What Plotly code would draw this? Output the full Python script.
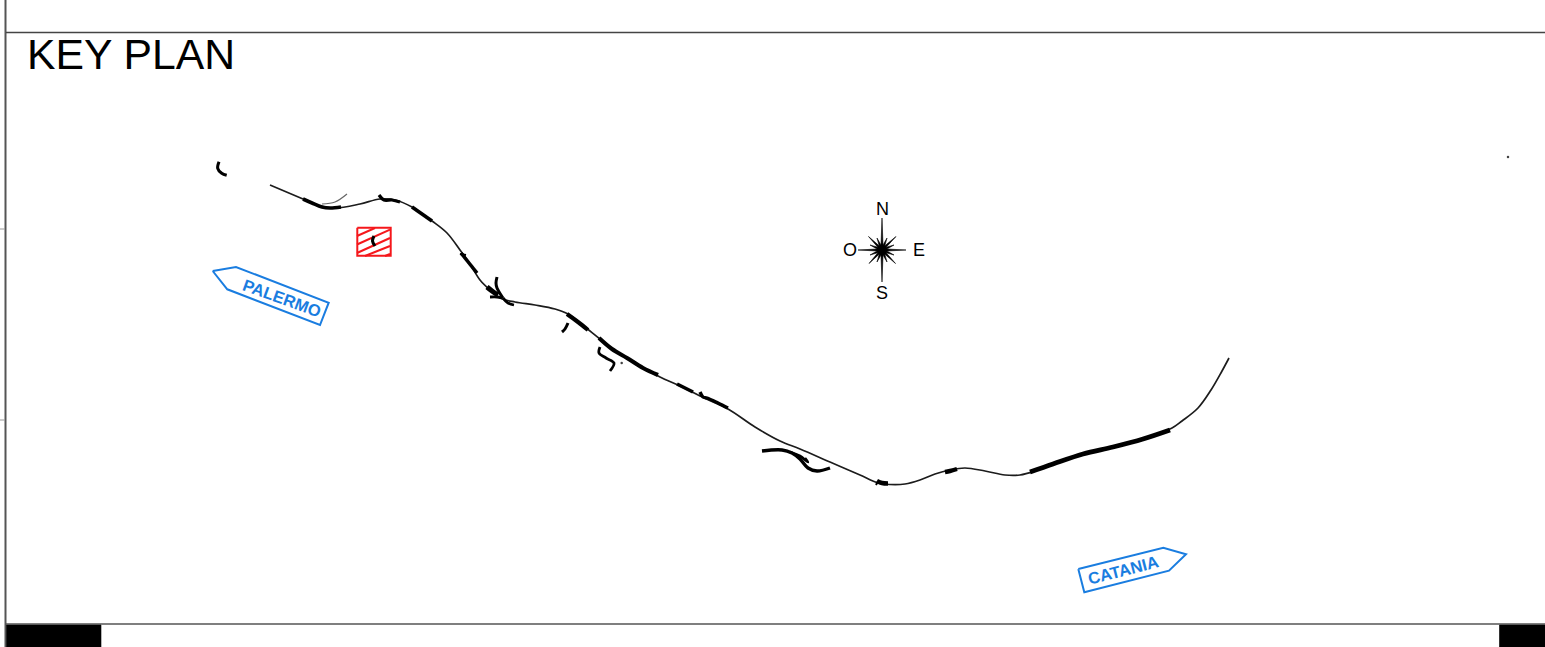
import plotly.graph_objects as go

TITLE = "KEY PLAN"
CITY_LABELS = ["PALERMO", "CATANIA"]
CITY_LABEL_X = [282, 1123]
CITY_LABEL_Y = [298.5, 570]
CITY_LABEL_ANGLE = [20, -14.5]
COMPASS_LETTERS = ["N", "S", "O", "E"]
COMPASS_LETTER_X = [882, 882, 850, 919]
COMPASS_LETTER_Y = [209, 292.5, 250, 250]

track_x = [270,303,320,335,360,380,395,412,432,447,460,470,480,490,500,515,535,555,568,585,600,620,640,660,680,700,728,755,780,800,830,860,878,890,905,920,935,950,965,985,1005,1020,1035,1060,1085,1110,1135,1150,1172,1182,1198,1211,1222,1229]
track_y = [185,199,206,208,204,199,200,207,221,233,250,264,280,290,298,302,305,309,314,327,339,354,366,377,386,396,409,427,441,449,462,475,483,484.5,484,480,474,470,468,471,475,475,471,461,453,447,441,436,428,421,408,390,371,358]

branch_grey_x = [322,335,347]
branch_grey_y = [204,202,194]

seg_a_x, seg_a_y = [303,312,322,330,341], [199,203,207,208,207]
seg_b_x, seg_b_y = [379,384,392,400], [195,200,200,202]
seg_c_x, seg_c_y = [412,422,432], [207,214,221]
seg_d_x, seg_d_y = [461,469,477], [253,263,273]
seg_e_x, seg_e_y = [487,492,498], [287,291,295]
seg_f_x, seg_f_y = [497,496,497,503], [277,283,288,298]
seg_g_x, seg_g_y = [490,497,502], [297,297,298]
seg_h_x, seg_h_y = [503,508,514], [298,303,305]
seg_i_x, seg_i_y = [567,578,588], [314,322,330]
seg_j_x, seg_j_y = [599,612,627,643,658], [338,349,358,368,375]
seg_k_x, seg_k_y = [568,565,562], [323,329,332]
seg_l_x, seg_l_y = [600,599,606,614,610], [347,353,358,363,371]
seg_m_x, seg_m_y = [677,685,693], [384,388,392]
seg_n_x, seg_n_y = [700,703,707,718,728], [392,397,398,403,408]
seg_o_x, seg_o_y = [762,782,792,800,808,817,830], [451,450,453,459,468,471,468]
seg_p_x, seg_p_y = [790,800,808,805], [452,456,462,458]
seg_q_x, seg_q_y = [877,882,888], [481,483,483.5]
seg_r_x, seg_r_y = [945,950,957], [472,471,469]
seg_s_x, seg_s_y = [1030,1053,1083,1113,1143,1170], [472,464,454,447,439,430]
seg_t_x, seg_t_y = [219,217.7,221.7,226.7], [161.7,168.3,173.3,175.3]
seg_u_x, seg_u_y = [374,372.5,375], [236,241,246]
seg_v_x, seg_v_y = [460,466], [254,255]
seg_w_x, seg_w_y = [876,878], [485,481]

speck_x = [621.7, 1508]
speck_y = [363, 157]

red_box_x = [357.3,390.7,390.7,357.3,357.3]
red_box_y = [227.7,227.7,255.7,255.7,227.7]
hatch_x = [357,375,None,357,390,None,357,390,None,365,390,None,385,390]
hatch_y = [236,228,None,244.5,229.6,None,253,238,None,256,246,None,256,254]

palermo_x = [212.7,236,328.7,320,227.3,212.7]
palermo_y = [271,267,302.7,325,289.3,271]
catania_x = [1078.3,1163.3,1186,1169,1084.3,1078.3]
catania_y = [569,547.7,554.3,570.7,592.3,569]

star_x = [882,883,887,884.8,896,886.2,894,886.9,906,886.9,894,886.2,895.5,884.8,887,883,882,881,877,879.2,869,877.8,870,877.1,858,877.1,870,877.8,868.5,879.2,877,881,882]
star_y = [218,245.1,238,245.8,236.5,247.2,245,249,250,251,255,252.8,263.5,254.2,262,254.9,282,254.9,262,254.2,263.5,252.8,255,251,250,249,245,247.2,236.5,245.8,238,245.1,218]

frame_v_x, frame_v_y = [5.5,5.5], [0,647]
frame_top_x, frame_top_y = [6,1545], [32.5,32.5]
frame_bot_x, frame_bot_y = [6,1545], [624,624]
tick1_x, tick1_y = [0,5], [229,229]
tick2_x, tick2_y = [0,5], [420,420]
block_l_x, block_l_y = [6.5,101,101,6.5,6.5], [625,625,647,647,625]
block_r_x, block_r_y = [1499.5,1545,1545,1499.5,1499.5], [625,625,647,647,625]

BLUE = "#1a7de0"
RED = "#f5171b"
fig = go.Figure()

def line(x, y, color="#000000", width=1.0, shape="linear"):
    fig.add_trace(go.Scatter(x=x, y=y, mode="lines", hoverinfo="skip", showlegend=False,
                             connectgaps=False,
                             line=dict(color=color, width=width, shape=shape)))

def poly(x, y, fill):
    fig.add_trace(go.Scatter(x=x, y=y, mode="lines", fill="toself", fillcolor=fill,
                             hoverinfo="skip", showlegend=False,
                             line=dict(color=fill, width=0.6)))

line(frame_v_x, frame_v_y, "#555555", 2)
line(frame_top_x, frame_top_y, "#444444", 1.6)
line(frame_bot_x, frame_bot_y, "#555555", 1.6)
line(tick1_x, tick1_y, "#999999", 1)
line(tick2_x, tick2_y, "#999999", 1)
poly(block_l_x, block_l_y, "#000000")
poly(block_r_x, block_r_y, "#000000")

line(branch_grey_x, branch_grey_y, "#666666", 1.2, "spline")
line(track_x, track_y, "#1c1c1c", 1.7, "spline")

for sx, sy, w in [
    (seg_a_x, seg_a_y, 3.6), (seg_b_x, seg_b_y, 3.2), (seg_c_x, seg_c_y, 3.6),
    (seg_d_x, seg_d_y, 3.6), (seg_e_x, seg_e_y, 5), (seg_f_x, seg_f_y, 3),
    (seg_g_x, seg_g_y, 2.8), (seg_h_x, seg_h_y, 2.8), (seg_i_x, seg_i_y, 4.2),
    (seg_j_x, seg_j_y, 4.2), (seg_k_x, seg_k_y, 3), (seg_l_x, seg_l_y, 2.8),
    (seg_m_x, seg_m_y, 3.6), (seg_n_x, seg_n_y, 3.4), (seg_o_x, seg_o_y, 3.4),
    (seg_p_x, seg_p_y, 2.6), (seg_q_x, seg_q_y, 4.4), (seg_r_x, seg_r_y, 4.4),
    (seg_s_x, seg_s_y, 4.8), (seg_t_x, seg_t_y, 3), (seg_v_x, seg_v_y, 2),
    (seg_w_x, seg_w_y, 2),
]:
    line(sx, sy, "#000000", w, "spline")

fig.add_trace(go.Scatter(x=speck_x, y=speck_y, mode="markers", hoverinfo="skip", showlegend=False,
                         marker=dict(color="#444444", size=2.5)))

line(hatch_x, hatch_y, RED, 2)
line(red_box_x, red_box_y, RED, 2)
line(seg_u_x, seg_u_y, "#000000", 3, "spline")

line(palermo_x, palermo_y, BLUE, 2)
line(catania_x, catania_y, BLUE, 2)
poly(star_x, star_y, "#000000")

annotations = [dict(x=25, y=54.3, text=TITLE, xanchor="left", yanchor="middle", showarrow=False,
                    font=dict(family="Liberation Sans", size=42.7, color="#000000"))]
for t, x, y, a in zip(CITY_LABELS, CITY_LABEL_X, CITY_LABEL_Y, CITY_LABEL_ANGLE):
    annotations.append(dict(x=x, y=y, text="<b>%s</b>" % t, textangle=a, showarrow=False,
                            font=dict(family="Liberation Sans", size=16.6, color=BLUE)))
for t, x, y in zip(COMPASS_LETTERS, COMPASS_LETTER_X, COMPASS_LETTER_Y):
    annotations.append(dict(x=x, y=y, text=t, showarrow=False,
                            font=dict(family="Liberation Sans", size=18, color="#000000")))

fig.update_layout(
    width=1545, height=647, margin=dict(l=0, r=0, t=0, b=0, pad=0),
    paper_bgcolor="#ffffff", plot_bgcolor="#ffffff", showlegend=False,
    annotations=annotations,
    xaxis=dict(range=[0, 1545], visible=False, fixedrange=True),
    yaxis=dict(range=[647, 0], visible=False, fixedrange=True),
)
fig.write_html("out.html", config={"displayModeBar": False},
               post_script="document.body.style.margin='0';document.body.style.overflow='hidden';")
